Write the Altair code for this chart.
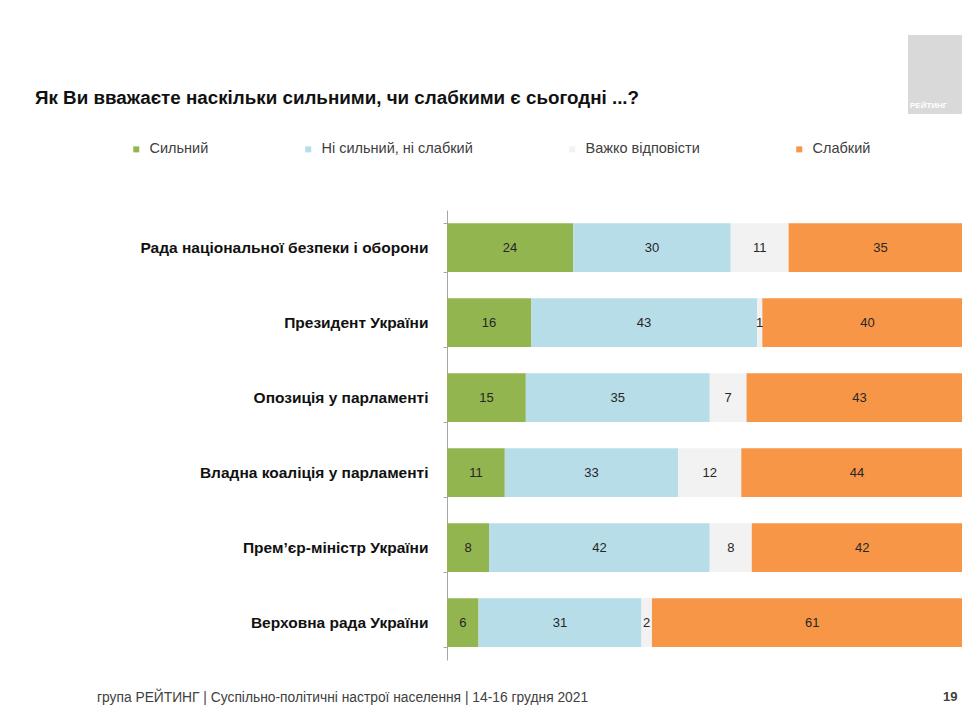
import altair as alt
import pandas as pd

FONT = "Liberation Sans"

items = [
    "Рада національної безпеки і оборони",
    "Президент України",
    "Опозиція у парламенті",
    "Владна коаліція у парламенті",
    "Прем’єр-міністр України",
    "Верховна рада України",
]
categories = ["Сильний", "Ні сильний, ні слабкий", "Важко відповісти", "Слабкий"]
colors = ["#92b550", "#b7dde8", "#f2f2f2", "#f79646"]

strong = [24, 16, 15, 11, 8, 6]
neither = [30, 43, 35, 33, 42, 31]
hard = [11, 1, 7, 12, 8, 2]
weak = [35, 40, 43, 44, 42, 61]

title_text = "Як Ви вважаєте наскільки сильними, чи слабкими є сьогодні ...?"
footer_text = "група РЕЙТИНГ | Суспільно-політичні настрої населення |  14-16 грудня 2021"
page_text = "19"
logo_text = "РЕЙТИНГ"

series = [strong, neither, hard, weak]
rows = []
for ci, (cat, vals) in enumerate(zip(categories, series)):
    for item, v in zip(items, vals):
        rows.append({"item": item, "category": cat, "order": ci, "value": v})
df = pd.DataFrame(rows)

base = alt.Chart(df).transform_stack(
    stack="value",
    groupby=["item"],
    as_=["x0", "x1"],
    sort=[alt.SortField("order", order="ascending")],
)

xscale = alt.Scale(domain=[0, 98], nice=False, zero=True)
yenc = alt.Y(
    "item:N",
    sort=items,
    scale=alt.Scale(paddingInner=0.35, paddingOuter=0.175),
    axis=alt.Axis(
        title=None,
        labelFont=FONT,
        labelFontSize=15.5,
        labelFontWeight="bold",
        labelColor="#111111",
        labelPadding=15,
        labelLimit=420,
        tickBand="extent",
        tickSize=4,
        tickColor="#a6a6a6",
        domainColor="#a6a6a6",
        grid=False,
    ),
)

bars = base.mark_bar(clip=True).encode(
    x=alt.X("x0:Q", scale=xscale, axis=None),
    x2="x1:Q",
    y=yenc,
    color=alt.Color(
        "category:N",
        scale=alt.Scale(domain=categories, range=colors),
        legend=alt.Legend(
            title=None,
            orient="none",
            legendX=-318,
            legendY=-68,
            direction="horizontal",
            columns=4,
            columnPadding=92,
            symbolType="square",
            symbolSize=36,
            symbolStrokeWidth=0,
            labelFont=FONT,
            labelFontSize=14.5,
            labelColor="#404040",
            labelOffset=6,
            labelLimit=300,
            padding=0,
        ),
    ),
)

labels = base.transform_calculate(mid="(datum.x0 + datum.x1) / 2").mark_text(
    font=FONT, fontSize=13, color="#262626", baseline="middle", align="center"
).encode(
    x=alt.X("mid:Q", scale=xscale, axis=None),
    y=alt.Y("item:N", sort=items),
    text="value:Q",
)

def text_layer(txt, x, y, **kw):
    return alt.Chart(pd.DataFrame({"t": [txt]})).mark_text(
        font=FONT, baseline="middle", align="left", **kw
    ).encode(text="t:N", x=alt.value(x), y=alt.value(y))

title = text_layer(title_text, -412, -112, fontSize=18.8, fontWeight="bold", color="#111111")
footer = text_layer(footer_text, -350, 488, fontSize=13.8, color="#404040")
page = text_layer(page_text, 496, 487, fontSize=13, fontWeight="bold", color="#404040")

logo_rect = alt.Chart(pd.DataFrame({"t": [logo_text]})).mark_rect(color="#d9d9d9").encode(
    x=alt.value(461), x2=alt.value(530), y=alt.value(-175), y2=alt.value(-96)
)
logo_txt = text_layer(logo_text, 463, -104, fontSize=8, fontWeight="bold", color="#ffffff")

chart = alt.layer(bars, labels, title, footer, page, logo_rect, logo_txt).properties(
    width=515,
    height=450,
    padding={"left": 439, "top": 202, "right": 0, "bottom": 46},
    autosize=alt.AutoSizeParams(type="none"),
    background="#ffffff",
).configure_view(stroke=None)

chart.save("out.html", embed_options={"renderer": "svg", "actions": False})
